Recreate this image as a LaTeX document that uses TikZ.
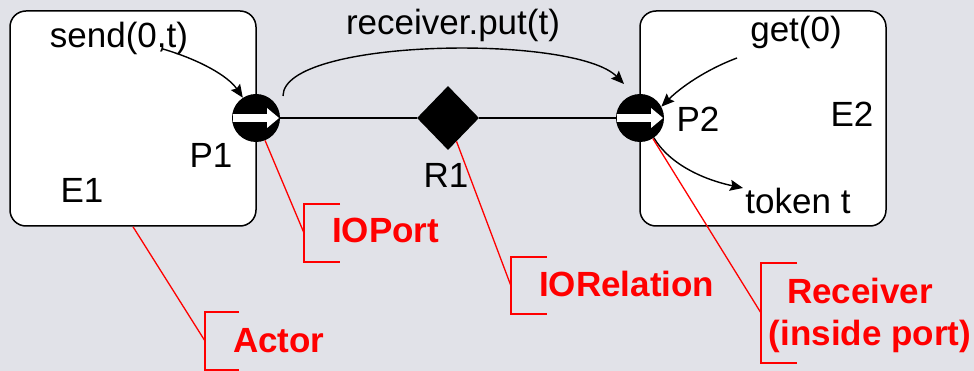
\documentclass[tikz,border=0pt]{standalone}
\usepackage{fontspec}
\setmainfont{Liberation Sans}
\usetikzlibrary{shapes.geometric,arrows.meta}
\definecolor{bg}{RGB}{225,226,232}
\begin{document}
\begin{tikzpicture}[x=1pt,y=-1pt,
  txt/.style={font=\fontsize{35}{42}\selectfont, inner sep=0, anchor=base},
  rtxt/.style={font=\fontsize{35}{42}\selectfont\bfseries, text=red, inner sep=0, anchor=base west},
  box/.style={draw=black, line width=1.5pt, fill=white, rounded corners=16pt, minimum width=246pt, minimum height=215pt, inner sep=0},
  port/.style={circle, fill=black, minimum size=48pt, inner sep=0},
  rel/.style={diamond, fill=black, minimum width=62pt, minimum height=64pt, inner sep=0},
  arr/.style={-{Stealth[length=13pt,width=11pt,inset=2pt]}, line width=1.4pt},
  link/.style={line width=1.5pt},
  lead/.style={draw=red, line width=1.3pt}]
\fill[bg] (0,0) rectangle (974,371);
\useasboundingbox (0,0) rectangle (974,371);

% actors
\node[box] (E1) at (133,118.5) {};
\node[box] (E2) at (763,118.5) {};

% ports and relation
\node[port] (P1) at (256,118) {};
\node[port] (P2) at (640,118) {};
\node[rel] (R1) at (448,118) {};
\draw[link] (P1) -- (R1) -- (P2);
\foreach \p in {P1,P2}{
  \begin{scope}[shift={(\p)}]
    \fill[white] (-23,-4) rectangle (11.5,4);
    \fill[white] (11,-10) -- (23,0) -- (11,10) -- cycle;
  \end{scope}
}

% texts
\node[txt] (send) at (119,48) {send(0,t)};
\node[txt] (put) at (453,35) {receiver.put(t)};
\node[txt] (get) at (796,42) {get(0)};
\node[txt] (p1l) at (211,168) {P1};
\node[txt] (e1l) at (82,203) {E1};
\node[txt] (r1l) at (446,188) {R1};
\node[txt] (p2l) at (698,132) {P2};
\node[txt] (e2l) at (852,127) {E2};
\node[txt] (tok) at (798,214) {token t};

% black arrows
\coordinate (s0) at (163,49);
\draw[arr] (s0) .. controls (200,60) and (228,76) .. (P1.123);
\coordinate (c0) at (283,96);
\coordinate (c1) at (624,84);
\draw[arr] (c0) .. controls (283,38) and (575,34) .. (c1);
\coordinate (g0) at (737,58);
\draw[arr] (g0) .. controls (705,70) and (680,88) .. (P2.28);
\coordinate (t1) at (743,188);
\draw[arr] (P2.-55) .. controls (670,165) and (705,180) .. (t1);

% red annotations
\coordinate (aB) at (205,341);
\draw[lead] (E1.south) -- (aB);
\draw[lead] (239,312) -- (205,312) -- (205,370) -- (239,370);
\node[rtxt] (actor) at (233,352) {Actor};

\coordinate (pB) at (304,233);
\draw[lead] (P1.-68) -- (pB);
\draw[lead] (340,204) -- (304,204) -- (304,262) -- (340,262);
\node[rtxt] (ioport) at (332,243) {IOPort};

\coordinate (rB) at (511,286);
\draw[lead] (R1.-70) -- (rB);
\draw[lead] (547,257) -- (511,257) -- (511,314) -- (547,314);
\node[rtxt] (iorel) at (539,296) {IORelation};

\coordinate (vB) at (761,313);
\draw[lead] (P2.-58) -- (vB);
\draw[lead] (797,263) -- (761,263) -- (761,363) -- (797,363);
\node[txt, font=\fontsize{35}{42}\selectfont\bfseries, text=red] (rec1) at (860,303) {Receiver};
\node[txt, font=\fontsize{35}{42}\selectfont\bfseries, text=red] (rec2) at (870,345) {(inside port)};
\end{tikzpicture}
\end{document}
